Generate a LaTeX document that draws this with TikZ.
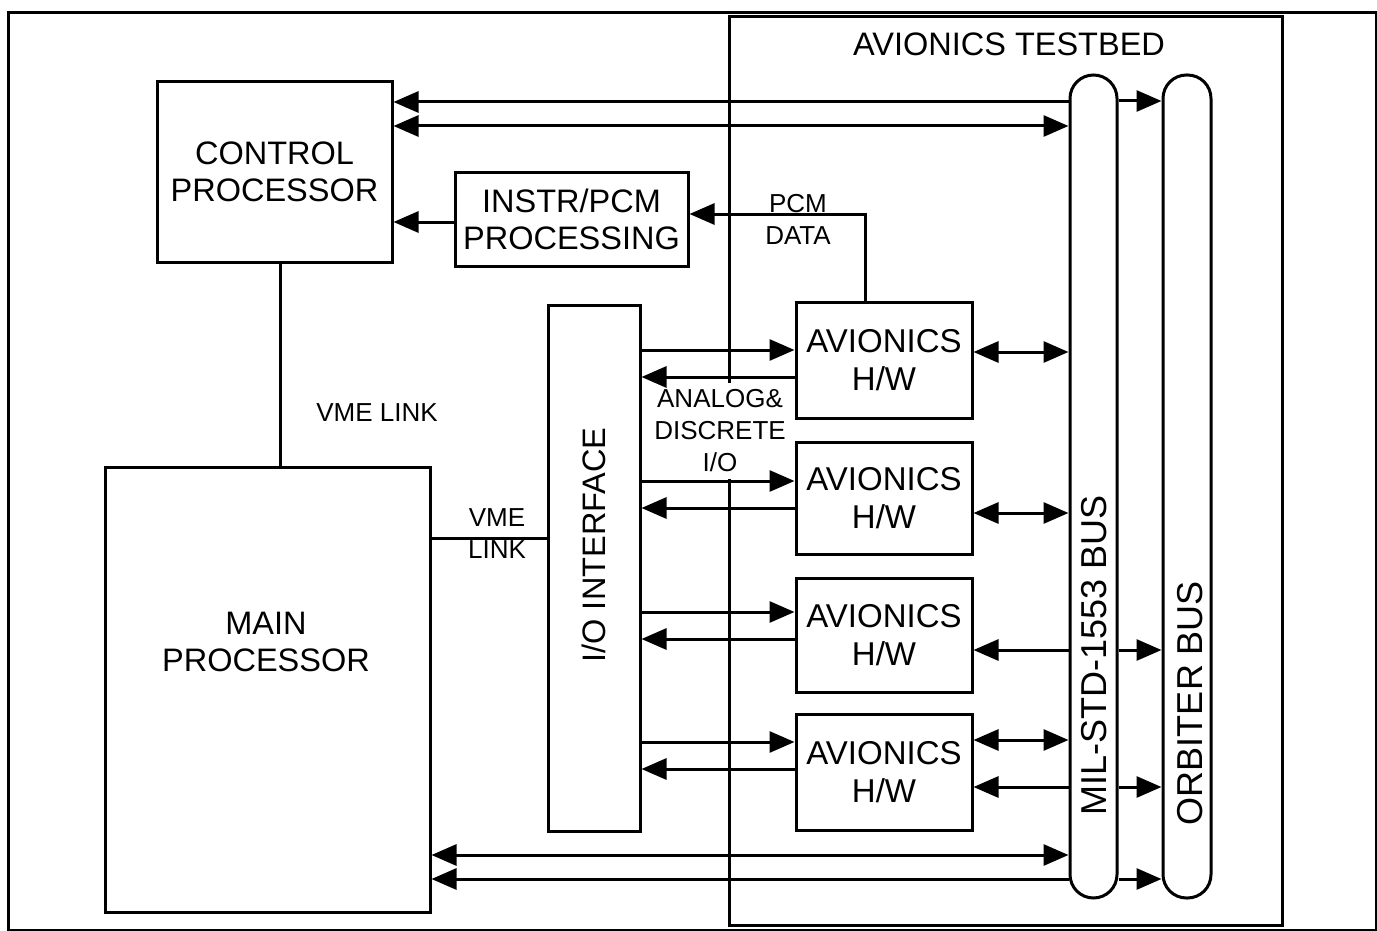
\documentclass[tikz,border=0pt]{standalone}
\usepackage{fontspec}
\setmainfont{Liberation Sans}
\usetikzlibrary{arrows.meta}
\newcommand\bigf{\fontsize{32.5}{37.5}\selectfont}
\newcommand\avf{\fontsize{33}{37.5}\selectfont}
\newcommand\titf{\fontsize{32.5}{37}\selectfont}
\newcommand\smallf{\fontsize{26}{32}\selectfont}
\newcommand\busf{\fontsize{36}{40}\selectfont}
\begin{document}
\begin{tikzpicture}[x=1pt,y=-1pt,
  box/.style={draw, line width=3pt, inner sep=0pt, align=center, font=\bigf},
  bus/.style={draw, line width=3pt, rounded corners=23.5pt, inner sep=0pt},
  wire/.style={line width=3pt},
  arr/.style={wire, -{Triangle[length=25pt,width=21pt]}},
  darr/.style={wire, {Triangle[length=25pt,width=21pt]}-{Triangle[length=25pt,width=21pt]}},
  lbl/.style={font=\smallf, align=center, inner sep=0pt}]
\useasboundingbox (0,0) rectangle (1377,931);
% frames
\node[draw, line width=3pt, minimum width=1368pt, minimum height=917pt, inner sep=0pt] (frame) at (692,471.5) {};
\node[draw, line width=3pt, minimum width=553pt, minimum height=908pt, inner sep=0pt] (tb) at (1005.5,471) {};
\node[font=\titf] (tbt) at (1009,44) {AVIONICS TESTBED};
% boxes
\node[box, minimum width=235pt, minimum height=180pt] (cp) at (274.5,172) {CONTROL\\PROCESSOR};
\node[box, minimum width=233pt, minimum height=93pt] (pcm) at (571.5,219.5) {INSTR/PCM\\PROCESSING};
\node[box, minimum width=325pt, minimum height=445pt] (mp) at (267.5,689.5) {};
\node[font=\bigf, align=center] (mpt) at (266,642) {MAIN\\PROCESSOR};
\node[box, minimum width=92pt, minimum height=526pt] (io) at (594,568) {};
\node[font=\bigf, rotate=90] (iot) at (594,545) {I/O INTERFACE};
\node[box, font=\avf, minimum width=176pt, minimum height=116pt] (av1) at (884,360) {AVIONICS\\H/W};
\node[box, font=\avf, minimum width=176pt, minimum height=112pt] (av2) at (884,498) {AVIONICS\\H/W};
\node[box, font=\avf, minimum width=176pt, minimum height=114pt] (av3) at (884,635) {AVIONICS\\H/W};
\node[box, font=\avf, minimum width=176pt, minimum height=116pt] (av4) at (884,772) {AVIONICS\\H/W};
% buses
\node[bus, minimum width=47pt, minimum height=823pt] (mil) at (1093.5,486.5) {};
\node[bus, minimum width=48pt, minimum height=823pt] (orb) at (1187,486.5) {};
\node[font=\busf, rotate=90] (milt) at (1094,655) {MIL-STD-1553 BUS};
\node[font=\busf, rotate=90] (orbt) at (1190,703) {ORBITER BUS};
% label breaking the testbed edge
\node[lbl, fill=white, inner ysep=7pt] (adio) at (720,431) {ANALOG\&\\DISCRETE\\I/O};
% VME links
\draw[wire] (cp.south -| 280,0) -- (mp.north -| 280,0);
\node[lbl] (vme1) at (377,413) {VME LINK};
\draw[wire] (mp.east |- 0,538) -- (io.west |- 0,538);
\node[lbl, text depth=0pt] (vme2) at (497,534) {VME\\LINK};
% top arrows
\draw[arr] (mil.west |- 0,102) -- (cp.east |- 0,102);
\draw[arr] (mil.east |- 0,101) -- (orb.west |- 0,101);
\draw[darr] (cp.east |- 0,126) -- (mil.west |- 0,126);
% PCM
\draw[arr] (pcm.west |- 0,222) -- (cp.east |- 0,222);
\draw[arr] (av1.north -| 865,0) |- (pcm.east |- 0,214);
\node[lbl] (pcmt) at (798,219) {PCM\\DATA};
% IO <-> avionics
\draw[arr] (io.east |- 0,350) -- (av1.west |- 0,350);
\draw[arr] (av1.west |- 0,377) -- (io.east |- 0,377);
\draw[arr] (io.east |- 0,481) -- (av2.west |- 0,481);
\draw[arr] (av2.west |- 0,508) -- (io.east |- 0,508);
\draw[arr] (io.east |- 0,612) -- (av3.west |- 0,612);
\draw[arr] (av3.west |- 0,639) -- (io.east |- 0,639);
\draw[arr] (io.east |- 0,742) -- (av4.west |- 0,742);
\draw[arr] (av4.west |- 0,769) -- (io.east |- 0,769);
% avionics <-> buses
\draw[darr] (av1.east |- 0,352) -- (mil.west |- 0,352);
\draw[darr] (av2.east |- 0,513) -- (mil.west |- 0,513);
\draw[arr] (mil.west |- 0,650) -- (av3.east |- 0,650);
\draw[arr] (mil.east |- 0,650) -- (orb.west |- 0,650);
\draw[darr] (av4.east |- 0,740) -- (mil.west |- 0,740);
\draw[arr] (mil.west |- 0,787) -- (av4.east |- 0,787);
\draw[arr] (mil.east |- 0,787) -- (orb.west |- 0,787);
% bottom arrows
\draw[darr] (mp.east |- 0,855) -- (mil.west |- 0,855);
\draw[arr] (mil.west |- 0,879) -- (mp.east |- 0,879);
\draw[arr] (mil.east |- 0,879) -- (orb.west |- 0,879);
\end{tikzpicture}
\end{document}
